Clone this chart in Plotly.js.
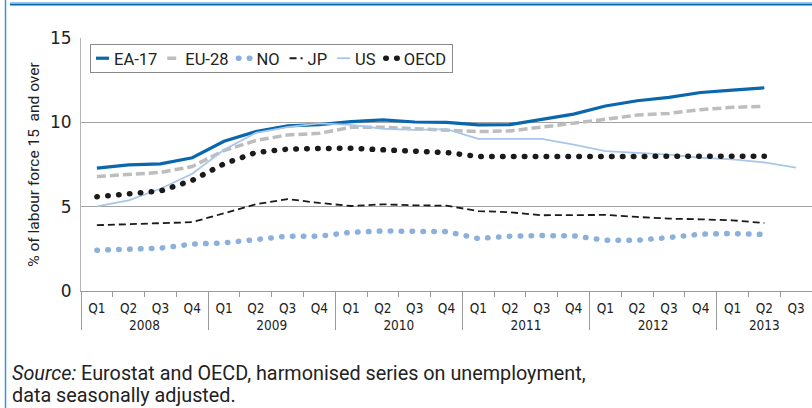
<!DOCTYPE html>
<html>
<head>
<meta charset="utf-8">
<script src="https://cdn.plot.ly/plotly-3.0.1.min.js"></script>
<style>
  html, body { margin: 0; padding: 0; background: #fff; }
  #chart { width: 812px; height: 408px; }
  path.js-line[style*="0.5px"] { stroke-linecap: round; }
</style>
</head>
<body>
<div id="chart"></div>
<script>
const years = ['2008','2008','2008','2008','2009','2009','2009','2009','2010','2010','2010','2010',
               '2011','2011','2011','2011','2012','2012','2012','2012','2013','2013','2013'];
const quarters = ['Q1','Q2','Q3','Q4','Q1','Q2','Q3','Q4','Q1','Q2','Q3','Q4',
                  'Q1','Q2','Q3','Q4','Q1','Q2','Q3','Q4','Q1','Q2','Q3'];

const ea17 = [7.28,7.48,7.54,7.90,8.88,9.45,9.79,9.86,10.04,10.14,10.02,10.00,
              9.85,9.86,10.18,10.49,10.97,11.28,11.48,11.77,11.91,12.05,null];
const eu28 = [6.79,6.91,7.03,7.38,8.33,8.92,9.25,9.35,9.71,9.71,9.61,9.55,
              9.45,9.49,9.71,9.96,10.18,10.43,10.53,10.75,10.89,10.95,null];
const no   = [2.42,2.50,2.54,2.78,2.85,3.05,3.25,3.25,3.48,3.56,3.54,3.52,
              3.11,3.25,3.29,3.27,3.01,3.01,3.17,3.37,3.41,3.35,null];
const jp   = [3.90,3.98,4.02,4.08,4.59,5.14,5.45,5.22,5.04,5.14,5.08,5.06,
              4.74,4.67,4.49,4.51,4.51,4.39,4.29,4.25,4.19,4.03,null];
const us   = [5.02,5.37,6.06,6.95,8.37,9.37,9.71,9.94,9.85,9.62,9.55,9.60,
              9.02,9.02,9.02,8.68,8.29,8.19,8.09,7.90,7.80,7.62,7.32];
const oecd = [5.59,5.73,5.93,6.56,7.54,8.21,8.41,8.45,8.47,8.37,8.27,8.21,
              7.97,7.97,7.93,7.93,7.93,7.93,7.95,8.01,8.01,7.99,null];

const seriesNames = ['EA-17','EU-28','NO','JP','US','OECD'];
const yTicks = [0,5,10,15];
const sourceLines = ['<i>Source:</i> Eurostat and OECD, harmonised series on unemployment,',
                     'data seasonally adjusted.'];

const x = [years, quarters];
const styles = [
  {color:'#0a67ad', width:3.2, dash:'solid'},
  {color:'#bdbdbd', width:3.5, dash:'9px,4px'},
  {color:'#8cb0dc', width:5.5, dash:'0.5px,10.4px'},
  {color:'#1a1a1a', width:1.8, dash:'7px,4px'},
  {color:'#a9c6e8', width:1.8, dash:'solid'},
  {color:'#1a1a1a', width:5.5, dash:'0.5px,10.4px'}
];
const vals = [ea17, eu28, no, jp, us, oecd];
const traces = vals.map((v,i) => ({
  type:'scatter', mode:'lines', x:x, y:v, name:seriesNames[i],
  line:{color:styles[i].color, width:styles[i].width, dash:styles[i].dash},
  connectgaps:false, hoverinfo:'skip'
}));

const L = 81, R = 812, T = 38, B = 291;
const px = v => (v - L) / (R - L);
const py = v => (B - v) / (B - T);

const layout = {
  width:812, height:408,
  margin:{l:L, r:812-R, t:T, b:408-B, pad:0},
  paper_bgcolor:'#fff', plot_bgcolor:'#fff',
  font:{family:'Roboto, "DejaVu Sans", sans-serif', color:'#222'},
  showlegend:true,
  legend:{
    orientation:'h', x:px(90), y:py(44), xanchor:'left', yanchor:'top',
    bgcolor:'#fff', bordercolor:'#8a8a8a', borderwidth:1,
    font:{size:16.5, color:'#222', family:'Roboto, sans-serif'},
    itemwidth:30, tracegroupgap:0
  },
  xaxis:{
    type:'multicategory', range:[-0.5, 22.5],
    showline:true, linecolor:'#9a9a9a', linewidth:1,
    ticks:'outside', tickson:'boundaries', ticklen:5, tickcolor:'#9a9a9a',
    showdividers:true, dividercolor:'#9a9a9a', dividerwidth:1,
    tickangle:0, ticklabelstandoff:5,
    tickfont:{size:13.5, color:'#222', family:'"Liberation Sans Narrow", "DejaVu Sans Condensed", Roboto, sans-serif'},
    showgrid:false, zeroline:false, automargin:false
  },
  yaxis:{
    range:[0,15], tickvals:yTicks, ticktext:yTicks.map(String),
    showgrid:true, gridcolor:'#a3a3a3', gridwidth:1,
    showline:true, linecolor:'#b5b5b5', linewidth:1,
    zeroline:false, ticks:'', ticklabelstandoff:5,
    tickfont:{size:17, color:'#222', family:'"DejaVu Sans", sans-serif'},
    title:{text:'% of labour force 15  and over', standoff:6,
           font:{size:15.5, color:'#222', family:'Roboto, sans-serif'}},
    automargin:false
  },
  shapes:[
    {type:'line', xref:'paper', yref:'paper', x0:px(10), x1:px(812), y0:py(4.5), y1:py(4.5),
     line:{color:'#0a67ad', width:2.2}},
    {type:'line', xref:'paper', yref:'paper', x0:px(10), x1:px(812), y0:py(2.5), y1:py(2.5),
     line:{color:'#9ec8ea', width:1}},
    {type:'line', xref:'paper', yref:'paper', x0:px(5.5), x1:px(5.5), y0:py(0), y1:py(408),
     line:{color:'#3a93d3', width:1.5}}
  ],
  annotations: sourceLines.map((t,i) => ({
    xref:'paper', yref:'paper', x:px(10), y:py(373.5 + 21.5*i), xanchor:'left', yanchor:'middle', align:'left',
    showarrow:false, font:{size:19.8, color:'#222', family:'Roboto, sans-serif'}, text:t
  }))
};

Plotly.newPlot('chart', traces, layout, {staticPlot:true, displayModeBar:false}).then(gd => {
  const items = Array.from(gd.querySelectorAll('.legend .traces'));
  const cut = 17;
  const lift = 4;
  items.forEach((g, i) => {
    const tr = g.getAttribute('transform') || '';
    const m = tr.match(/translate\(\s*([-\d.e]+)[,\s]+([-\d.e]+)\s*\)/);
    if (m) g.setAttribute('transform', 'translate(' + (parseFloat(m[1]) - cut*i) + ',' + (parseFloat(m[2]) - lift) + ')');
    g.querySelectorAll('path.js-line').forEach(p => p.setAttribute('d', 'M5,0h13'));
    const t = g.querySelector('text.legendtext');
    if (t) {
      t.setAttribute('x', 40 - cut);
      t.querySelectorAll('tspan[x]').forEach(s => s.setAttribute('x', 40 - cut));
    }
  });
  const bg = gd.querySelector('.legend rect.bg');
  if (bg) {
    bg.setAttribute('width', parseFloat(bg.getAttribute('width')) - cut*items.length);
    bg.setAttribute('height', parseFloat(bg.getAttribute('height')) - 2*lift);
  }
  // push the year (second-level) labels a little further down, as in the reference
  gd.querySelectorAll('.xtick2 text, g.xtick2 text').forEach(t => {
    const y = parseFloat(t.getAttribute('y') || '0');
    t.setAttribute('y', y + 4);
  });
});
</script>
</body>
</html>
